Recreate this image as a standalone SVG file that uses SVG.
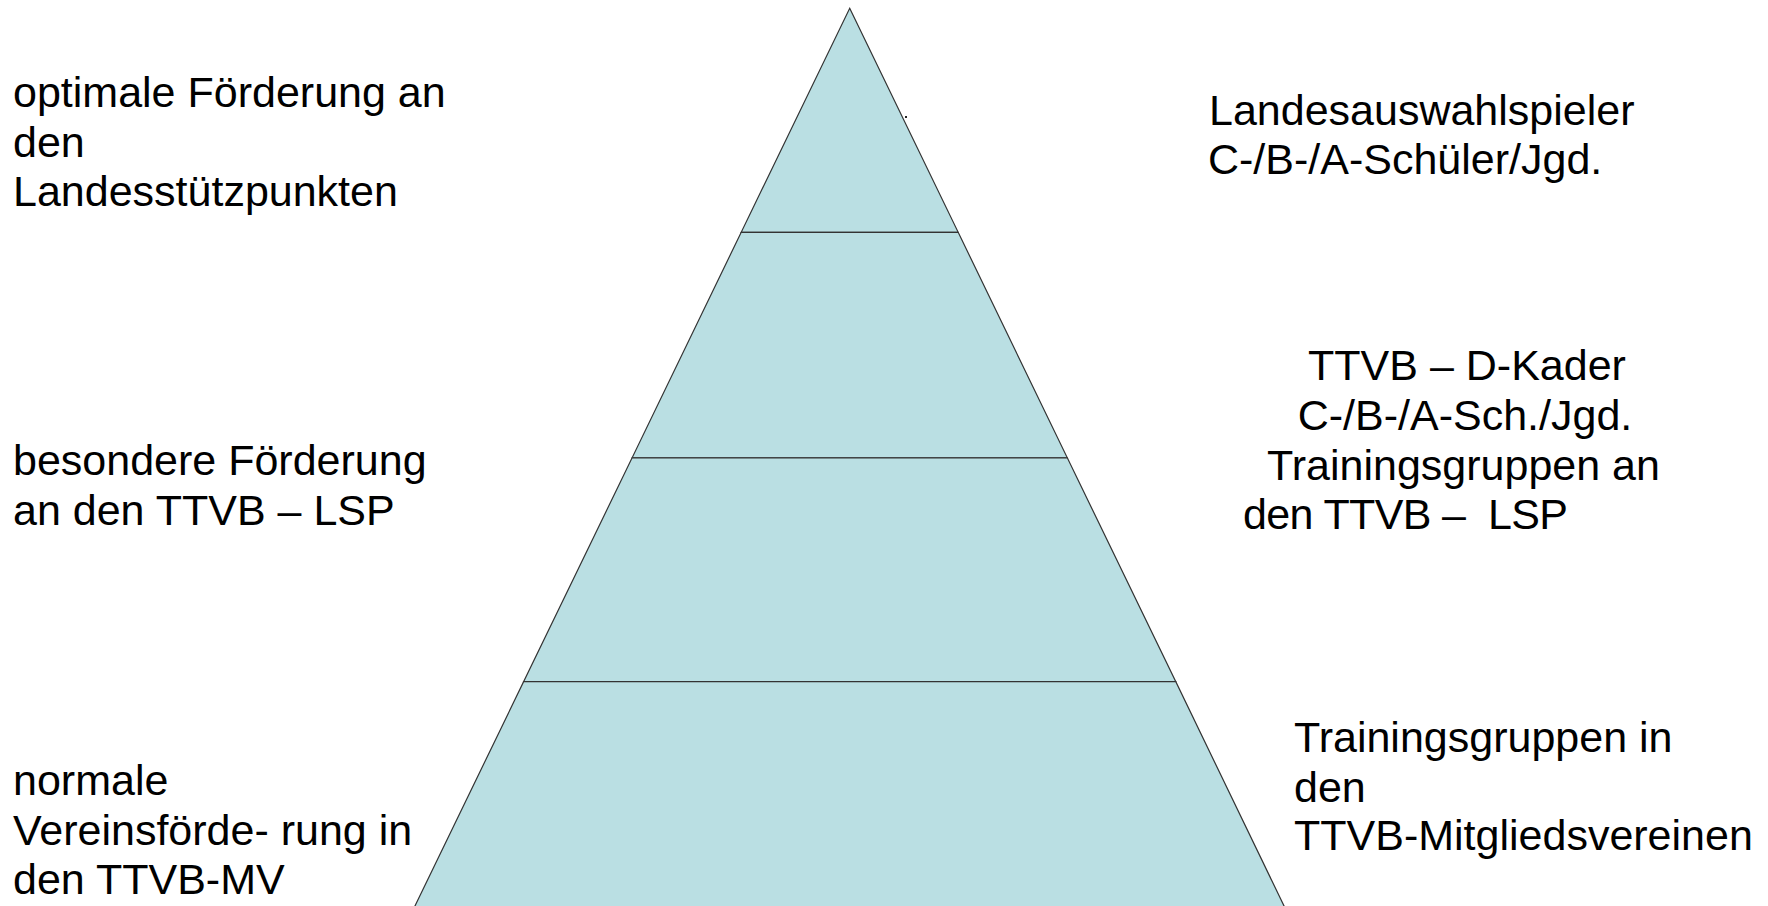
<svg xmlns="http://www.w3.org/2000/svg" width="1768" height="906" viewBox="0 0 1768 906">
<style>
.lvl{fill:#badfe3;stroke:#333;stroke-width:1.2;stroke-linejoin:miter}
.t{font-family:"Liberation Sans",Arial,sans-serif;font-size:43px;fill:#000}
.m{text-anchor:middle}
</style>
<rect x="0" y="0" width="1768" height="906" fill="#fff"/>
<g id="level1"><polygon class="lvl" points="849.7,8.3 958.2,232.3 741.2,232.3"/></g>
<g id="level2"><polygon class="lvl" points="741.2,232.3 958.2,232.3 1067.3,457.8 632.1,457.8"/></g>
<g id="level3"><polygon class="lvl" points="632.1,457.8 1067.3,457.8 1175.8,681.7 523.6,681.7"/></g>
<g id="level4"><polygon class="lvl" points="523.6,681.7 1175.8,681.7 1286,910 413,910"/></g>
<g id="connectors"></g>
<rect x="905" y="116" width="2" height="2" fill="#222"/>
<g id="label-left-1">
<text class="t" x="13" y="107">optimale Förderung an</text>
<text class="t" x="13" y="156.5">den</text>
<text class="t" x="13" y="206">Landesstützpunkten</text>
</g>
<g id="label-left-2">
<text class="t" x="13" y="475">besondere Förderung</text>
<text class="t" x="13" y="524.5">an den TTVB – LSP</text>
</g>
<g id="label-left-3">
<text class="t" x="13" y="795">normale</text>
<text class="t" x="13" y="844.5">Vereinsförde- rung in</text>
<text class="t" x="13" y="894">den TTVB-MV</text>
</g>
<g id="label-right-1">
<text class="t" x="1209" y="124.5">Landesauswahlspieler</text>
<text class="t" x="1208" y="174">C-/B-/A-Schüler/Jgd.</text>
</g>
<g id="label-right-2">
<text class="t m" x="1467" y="379.5">TTVB – D-Kader</text>
<text class="t m" x="1465" y="429.5">C-/B-/A-Sch./Jgd.</text>
<text class="t m" x="1463.5" y="479.5">Trainingsgruppen an</text>
<text class="t" x="1243" y="529" xml:space="preserve" textLength="325" lengthAdjust="spacing">den TTVB –  LSP</text>
</g>
<g id="label-right-3">
<text class="t" x="1294" y="751.5">Trainingsgruppen in</text>
<text class="t" x="1294" y="801.5">den</text>
<text class="t" x="1294" y="850">TTVB-Mitgliedsvereinen</text>
</g>
</svg>
